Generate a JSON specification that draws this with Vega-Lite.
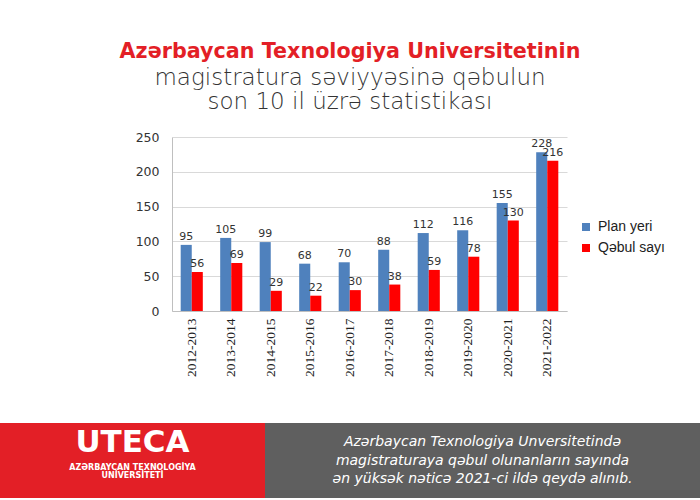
{
  "$schema": "https://vega.github.io/schema/vega-lite/v6.json",
  "background": "white",
  "padding": {"top": 41, "left": 0, "right": 0, "bottom": 0},
  "title": {
    "text": "Azərbaycan Texnologiya Universitetinin",
    "subtitle": ["magistratura səviyyəsinə qəbulun", "son 10 il üzrə statistikası"],
    "anchor": "middle",
    "frame": "bounds",
    "font": "DejaVu Sans",
    "fontSize": 20.7,
    "fontWeight": "bold",
    "color": "#e31f26",
    "subtitleFont": "DejaVu Sans",
    "subtitleFontSize": 23,
    "subtitleFontWeight": 300,
    "subtitleColor": "#333333",
    "subtitleLineHeight": 24,
    "subtitlePadding": 4,
    "offset": 16
  },
  "spacing": 0,
  "resolve": {"scale": {"color": "independent"}, "legend": {"color": "independent"}},
  "vconcat": [
    {
      "spacing": 0,
      "resolve": {"scale": {"color": "independent"}, "legend": {"color": "independent"}},
      "hconcat": [
        {
          "width": 135,
          "height": 174,
          "view": {"stroke": null},
          "data": {"values": [{"t": ""}]},
          "mark": {"type": "text"},
          "encoding": {"text": {"field": "t"}}
        },
        {
          "width": 395,
          "height": 174,
          "data": {
            "values": [
              {"il": "2012-2013", "seriya": "Plan yeri", "say": 95},
              {"il": "2012-2013", "seriya": "Qəbul sayı", "say": 56},
              {"il": "2013-2014", "seriya": "Plan yeri", "say": 105},
              {"il": "2013-2014", "seriya": "Qəbul sayı", "say": 69},
              {"il": "2014-2015", "seriya": "Plan yeri", "say": 99},
              {"il": "2014-2015", "seriya": "Qəbul sayı", "say": 29},
              {"il": "2015-2016", "seriya": "Plan yeri", "say": 68},
              {"il": "2015-2016", "seriya": "Qəbul sayı", "say": 22},
              {"il": "2016-2017", "seriya": "Plan yeri", "say": 70},
              {"il": "2016-2017", "seriya": "Qəbul sayı", "say": 30},
              {"il": "2017-2018", "seriya": "Plan yeri", "say": 88},
              {"il": "2017-2018", "seriya": "Qəbul sayı", "say": 38},
              {"il": "2018-2019", "seriya": "Plan yeri", "say": 112},
              {"il": "2018-2019", "seriya": "Qəbul sayı", "say": 59},
              {"il": "2019-2020", "seriya": "Plan yeri", "say": 116},
              {"il": "2019-2020", "seriya": "Qəbul sayı", "say": 78},
              {"il": "2020-2021", "seriya": "Plan yeri", "say": 155},
              {"il": "2020-2021", "seriya": "Qəbul sayı", "say": 130},
              {"il": "2021-2022", "seriya": "Plan yeri", "say": 228},
              {"il": "2021-2022", "seriya": "Qəbul sayı", "say": 216}
            ]
          },
          "view": {"stroke": null},
          "encoding": {
            "x": {
              "field": "il",
              "type": "nominal",
              "sort": null,
              "scale": {"paddingInner": 0.44, "paddingOuter": 0.22},
              "axis": {
                "title": null,
                "labelAngle": -90,
                "labelFont": "Liberation Sans Narrow",
                "labelFontSize": 13.5,
                "labelColor": "#222222",
                "labelPadding": 7,
                "ticks": false,
                "domainColor": "#bfbfbf",
                "minExtent": 112,
                "maxExtent": 112
              }
            },
            "xOffset": {"field": "seriya", "type": "nominal", "sort": ["Plan yeri", "Qəbul sayı"]},
            "y": {
              "field": "say",
              "type": "quantitative",
              "scale": {"domain": [0, 250]},
              "axis": {
                "title": null,
                "values": [0, 50, 100, 150, 200, 250],
                "labelFont": "DejaVu Sans",
                "labelFontSize": 12.5,
                "labelColor": "#333333",
                "labelPadding": 13,
                "ticks": false,
                "domainColor": "#bfbfbf",
                "gridColor": "#d9d9d9",
                "minExtent": 37,
                "maxExtent": 37
              }
            }
          },
          "layer": [
            {
              "mark": {"type": "bar"},
              "encoding": {
                "color": {
                  "field": "seriya",
                  "type": "nominal",
                  "scale": {"domain": ["Plan yeri", "Qəbul sayı"], "range": ["#4f81bd", "#ff0000"]},
                  "legend": {
                    "title": null,
                    "orient": "none",
                    "direction": "vertical",
                    "legendX": 407,
                    "legendY": 83,
                    "symbolType": "square",
                    "symbolSize": 64,
                    "symbolStrokeWidth": 0,
                    "labelFont": "Liberation Sans",
                    "labelFontSize": 14,
                    "labelColor": "#222222",
                    "labelOffset": 5,
                    "rowPadding": 7,
                    "padding": 0
                  }
                }
              }
            },
            {
              "mark": {"type": "text", "baseline": "bottom", "dy": -3, "font": "DejaVu Sans", "fontSize": 11, "color": "#333333"},
              "encoding": {"text": {"field": "say", "type": "quantitative"}}
            }
          ]
        }
      ]
    },
    {
      "spacing": 0,
      "hconcat": [
        {
          "width": 265,
          "height": 75,
          "view": {"fill": "#e31f26", "stroke": null},
          "data": {
            "values": [
              {"k": 0, "t": "UTECA"},
              {"k": 1, "t": "AZƏRBAYCAN TEXNOLOGİYA\nUNİVERSİTETİ"}
            ]
          },
          "encoding": {
            "y": {"field": "k", "type": "ordinal", "axis": null, "scale": {"type": "point", "padding": 1.8, "align": 0.4}},
            "text": {"field": "t"}
          },
          "layer": [
            {
              "transform": [{"filter": "datum.k == 0"}],
              "mark": {"type": "text", "color": "white", "fontWeight": "bold", "font": "DejaVu Sans", "fontSize": 31}
            },
            {
              "transform": [{"filter": "datum.k == 1"}],
              "mark": {"type": "text", "color": "white", "fontWeight": "bold", "font": "DejaVu Sans", "fontSize": 8, "lineBreak": "\n", "lineHeight": 8}
            }
          ]
        },
        {
          "width": 435,
          "height": 75,
          "view": {"fill": "#5f5f5f", "stroke": null},
          "data": {
            "values": [
              {"n": 1, "t": "Azərbaycan Texnologiya Unversitetində"},
              {"n": 2, "t": "magistraturaya qəbul olunanların sayında"},
              {"n": 3, "t": "ən yüksək nəticə 2021-ci ildə qeydə alınıb."}
            ]
          },
          "mark": {"type": "text", "color": "white", "fontStyle": "italic", "fontSize": 14, "font": "DejaVu Sans"},
          "encoding": {
            "y": {"field": "n", "type": "ordinal", "axis": null, "scale": {"type": "point", "padding": 1.68}},
            "text": {"field": "t"}
          }
        }
      ]
    }
  ]
}
